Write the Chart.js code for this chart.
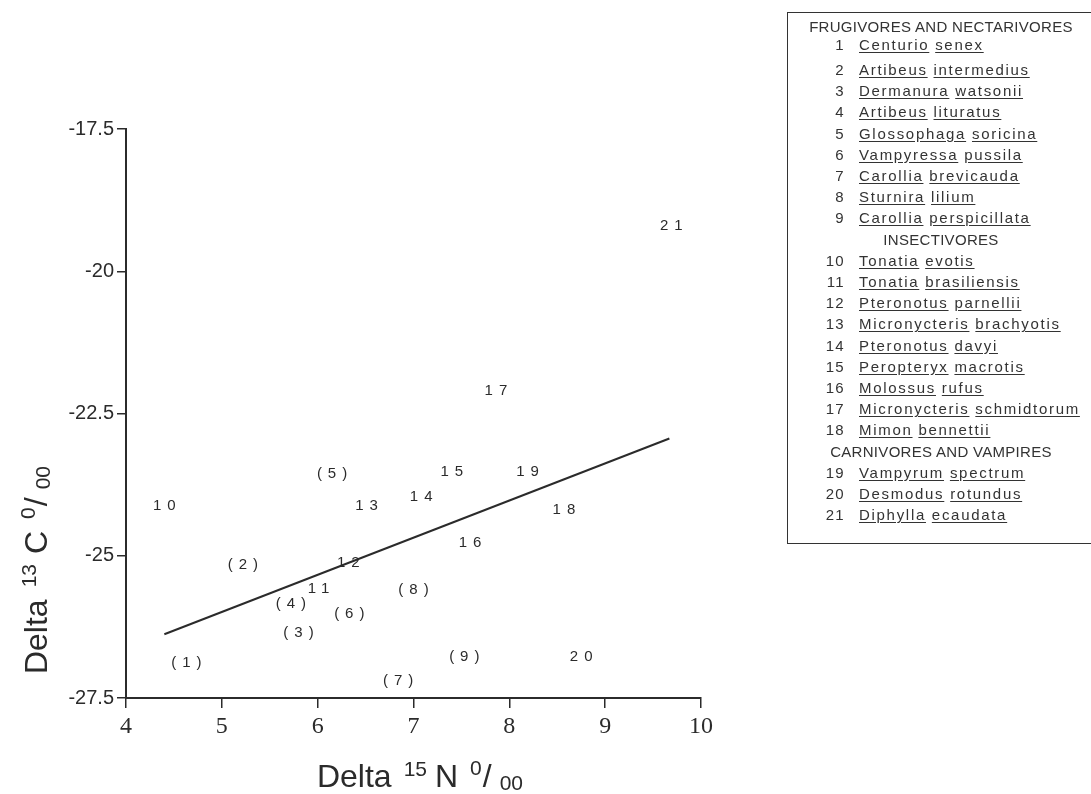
<!DOCTYPE html>
<html>
<head>
<meta charset="utf-8">
<script src="https://cdn.jsdelivr.net/npm/chart.js@4"></script>
<style>
  body { margin: 0; background: #fff; }
  #wrap { position: relative; width: 1091px; height: 794px; overflow: hidden; }
  #key {
    position: absolute; left: 787px; top: 12px; width: 400px; height: 530px;
    border: 1.5px solid #333; font-family: "Liberation Sans", Arial, sans-serif;
    color: #333; font-size: 15px; letter-spacing: 1.7px;
  }
  #key div { position: absolute; white-space: nowrap; line-height: 18px; }
  #key .num { width: 40px; text-align: right; letter-spacing: 1.3px; }
  #key u { text-underline-offset: 2px; }
</style>
</head>
<body>
<div id="wrap">
  <canvas id="isotopos" width="1091" height="794"></canvas>
  <div id="key"></div>
</div>
<script>
// numero da especie e valores (delta 15N, delta 13C)
var especies = [1,2,3,4,5,6,7,8,9,10,11,12,13,14,15,16,17,18,19,20,21];
var deltaN = [4.63, 5.22, 5.80, 5.72, 6.15, 6.33, 6.84, 7.00, 7.53, 4.40, 6.01,
              6.32, 6.51, 7.08, 7.40, 7.59, 7.86, 8.57, 8.19, 8.75, 9.69];
var deltaC = [-26.89, -25.16, -26.35, -25.84, -23.56, -26.03, -27.19, -25.60, -26.77, -24.13, -25.58,
              -25.13, -24.13, -23.96, -23.52, -24.78, -22.11, -24.20, -23.52, -26.77, -19.21];

// reta de regressao (extremos)
var retaN = [4.40, 9.67];
var retaC = [-26.38, -22.94];

var xTicks = [4, 5, 6, 7, 8, 9, 10];
var yTicks = [-27.5, -25, -22.5, -20, -17.5];

// legenda
var grupos = [
  {titulo: 'FRUGIVORES AND NECTARIVORES', itens: [1,2,3,4,5,6,7,8,9]},
  {titulo: 'INSECTIVORES', itens: [10,11,12,13,14,15,16,17,18]},
  {titulo: 'CARNIVORES AND VAMPIRES', itens: [19,20,21]}
];
var nomes = ['Centurio senex', 'Artibeus intermedius', 'Dermanura watsonii', 'Artibeus lituratus',
  'Glossophaga soricina', 'Vampyressa pussila', 'Carollia brevicauda', 'Sturnira lilium',
  'Carollia perspicillata', 'Tonatia evotis', 'Tonatia brasiliensis', 'Pteronotus parnellii',
  'Micronycteris brachyotis', 'Pteronotus davyi', 'Peropteryx macrotis', 'Molossus rufus',
  'Micronycteris schmidtorum', 'Mimon bennettii', 'Vampyrum spectrum', 'Desmodus rotundus',
  'Diphylla ecaudata'];

var TINTA = '#2b2b2b';

// monta a legenda em html
(function() {
  var key = document.getElementById('key');
  var y = 14;
  grupos.forEach(function(g, gi) {
    var h = document.createElement('div');
    h.textContent = g.titulo;
    h.style.top = (y - 9) + 'px';
    h.style.left = '0px'; h.style.width = '306px'; h.style.textAlign = 'center';
    h.style.letterSpacing = '0.3px';
    key.appendChild(h);
    y += (gi == 0) ? 18 : 21.2;
    g.itens.forEach(function(n, ii) {
      var nd = document.createElement('div');
      nd.className = 'num'; nd.textContent = n;
      nd.style.left = '17px'; nd.style.top = (y - 9) + 'px';
      key.appendChild(nd);
      var sd = document.createElement('div');
      sd.innerHTML = nomes[n - 1].split(' ').map(function(w) { return '<u>' + w + '</u>'; }).join(' ');
      sd.style.left = '71px'; sd.style.top = (y - 9) + 'px';
      key.appendChild(sd);
      y += (gi == 0 && ii == 0) ? 25 : 21.2;
    });
  });
})();

// desenha os rotulos dos pontos e os titulos dos eixos
function desenhaTitulo(ctx, partes) {
  var total = 0;
  partes.forEach(function(p) {
    ctx.font = p.size + 'px "Liberation Sans", Arial, sans-serif';
    p.w = ctx.measureText(p.t).width;
    total += p.w + (p.gap || 0);
  });
  var x = -total / 2;
  partes.forEach(function(p) {
    ctx.font = p.size + 'px "Liberation Sans", Arial, sans-serif';
    ctx.fillText(p.t, x, p.dy || 0);
    x += p.w + (p.gap || 0);
  });
}

var rotulosPlugin = {
  id: 'rotulos',
  afterDatasetsDraw: function(chart) {
    var ctx = chart.ctx;
    var meta = chart.getDatasetMeta(0);
    ctx.save();
    ctx.fillStyle = TINTA;
    ctx.font = '15px "Liberation Sans", Arial, sans-serif';
    ctx.letterSpacing = '6px';
    ctx.textAlign = 'left';
    ctx.textBaseline = 'middle';
    meta.data.forEach(function(pt, i) {
      var n = especies[i];
      var txt = n < 10 ? '(' + n + ')' : String(n);
      var w = ctx.measureText(txt).width - 6;
      ctx.fillText(txt, pt.x - w / 2, pt.y);
    });
    ctx.restore();

    ctx.save();
    ctx.fillStyle = TINTA;
    ctx.textAlign = 'left';
    ctx.textBaseline = 'alphabetic';
    // titulo eixo x
    ctx.translate(420, 787);
    desenhaTitulo(ctx, [
      {t: 'Delta', size: 32, gap: 12},
      {t: '15', size: 21, dy: -11, gap: 8},
      {t: 'N', size: 32, gap: 12},
      {t: '0', size: 21, dy: -12, gap: 1},
      {t: '/', size: 32, gap: 8},
      {t: '00', size: 21, dy: 3}
    ]);
    ctx.restore();

    ctx.save();
    ctx.fillStyle = TINTA;
    ctx.textAlign = 'left';
    ctx.textBaseline = 'alphabetic';
    // titulo eixo y
    ctx.translate(47, 570);
    ctx.rotate(-Math.PI / 2);
    desenhaTitulo(ctx, [
      {t: 'Delta', size: 32, gap: 12},
      {t: '13', size: 21, dy: -11, gap: 10},
      {t: 'C', size: 32, gap: 12},
      {t: '0', size: 21, dy: -12, gap: 1},
      {t: '/', size: 32, gap: 8},
      {t: '00', size: 21, dy: 3}
    ]);
    ctx.restore();
  }
};

document.addEventListener('DOMContentLoaded', function() {
  var ctx = document.getElementById('isotopos').getContext('2d');

  var pontos = especies.map(function(n, i) { return {x: deltaN[i], y: deltaC[i]}; });
  var reta = retaN.map(function(v, i) { return {x: v, y: retaC[i]}; });

  var myChart = new Chart(ctx, {
    type: 'scatter',
    data: {
      datasets: [{
        label: 'especies',
        data: pontos,
        pointRadius: 0,
        pointHoverRadius: 0,
        showLine: false
      }, {
        type: 'line',
        label: 'regressao',
        data: reta,
        borderColor: TINTA,
        borderWidth: 2,
        pointRadius: 0,
        fill: false
      }]
    },
    options: {
      responsive: false,
      animation: false,
      layout: { padding: { top: 129, right: 390, left: 0, bottom: 0 } },
      plugins: { legend: { display: false }, tooltip: { enabled: false } },
      scales: {
        x: {
          type: 'linear',
          min: 4, max: 10,
          afterBuildTicks: function(s) { s.ticks = xTicks.map(function(v) { return {value: v}; }); },
          afterFit: function(s) { s.height = 96; },
          ticks: {
            color: TINTA, padding: 4,
            font: { family: '"Liberation Serif", "Times New Roman", serif', size: 24 },
            callback: function(v) { return String(v); }
          },
          grid: { drawOnChartArea: false, drawTicks: true, tickLength: 10, color: TINTA, lineWidth: 1.5 },
          border: { display: true, color: TINTA, width: 2 }
        },
        y: {
          type: 'linear',
          min: -27.5, max: -17.5,
          afterBuildTicks: function(s) { s.ticks = yTicks.map(function(v) { return {value: v}; }); },
          afterFit: function(s) { s.width = 126; },
          ticks: {
            color: TINTA, padding: 3,
            font: { family: '"Liberation Sans", Arial, sans-serif', size: 20 },
            callback: function(v) { return String(v); }
          },
          grid: { drawOnChartArea: false, drawTicks: true, tickLength: 9, color: TINTA, lineWidth: 1.5 },
          border: { display: true, color: TINTA, width: 2 }
        }
      }
    },
    plugins: [rotulosPlugin]
  });
});
</script>
</body>
</html>
